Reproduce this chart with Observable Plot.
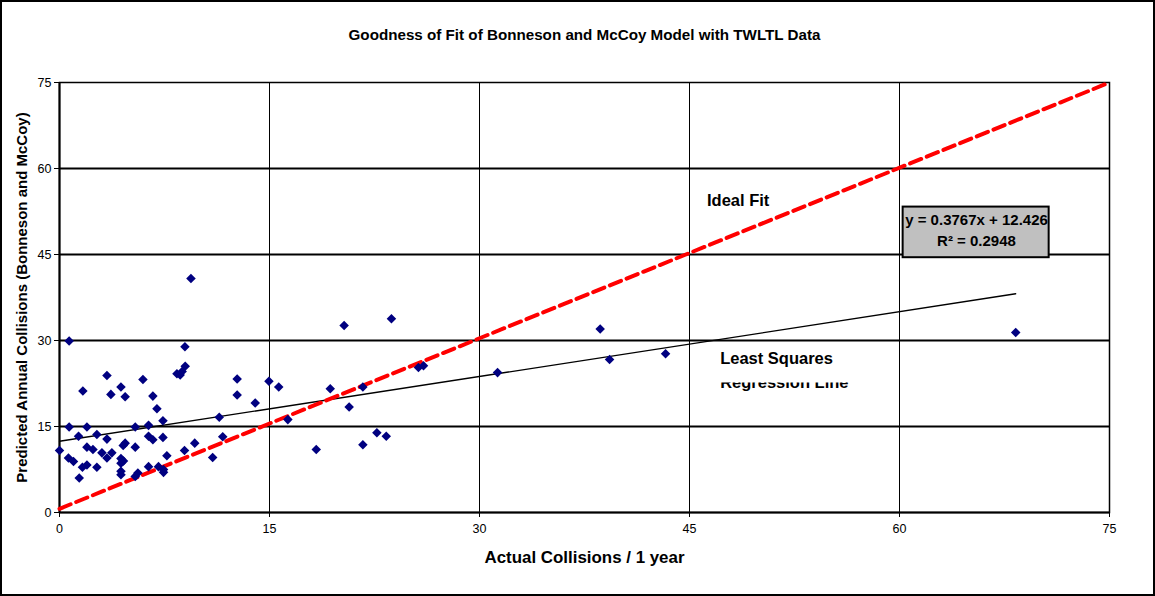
<!DOCTYPE html>
<html><head><meta charset="utf-8">
<script src="https://cdn.jsdelivr.net/npm/d3@7"></script>
<script src="https://cdn.jsdelivr.net/npm/@observablehq/plot@0.6"></script>
<style>body{margin:0;background:#fff;} svg{display:block;}</style>
</head><body><div id="chart"></div>
<script>
const actual = [0.0,0.69,0.69,0.64,1.0,1.41,1.36,1.67,1.96,1.96,1.64,1.96,2.39,2.67,2.67,3.03,3.39,3.67,3.39,3.39,3.74,4.39,4.69,4.39,4.57,4.39,4.69,4.55,4.39,4.39,5.41,5.41,5.6,5.41,5.96,6.36,6.36,6.67,6.67,6.96,7.39,7.39,6.36,7.07,7.43,7.43,7.67,8.39,8.62,8.76,8.98,8.96,9.39,8.93,9.66,10.94,11.41,11.66,12.69,12.69,13.98,14.96,15.66,16.31,18.34,19.34,20.33,20.69,21.67,21.67,22.67,23.34,23.71,25.64,26.0,31.29,38.62,39.29,43.29,68.3];
const predicted = [10.8,29.9,14.9,9.5,8.9,6.0,13.3,21.2,14.9,11.4,7.9,8.3,11.0,7.9,13.6,10.4,23.9,20.6,12.8,9.5,10.4,21.9,20.2,9.4,9.0,8.6,12.1,11.7,7.2,6.6,14.9,11.4,6.9,6.3,23.2,15.2,13.3,12.7,20.3,18.1,16.0,13.1,8.0,8.0,7.5,7.0,9.9,24.2,24.0,24.6,25.5,28.9,40.8,10.8,12.1,9.6,16.6,13.2,23.3,20.5,19.1,22.9,21.9,16.2,11.0,21.6,32.6,18.4,21.9,11.8,13.9,13.3,33.8,25.3,25.6,24.4,32.0,26.7,27.7,31.4];
const ticks = [0, 15, 30, 45, 60, 75];
const slope = 0.3767, intercept = 12.426;
const idealX = [0, 75];
const idealY = [0.65, 75];
const titleText = "Goodness of Fit of Bonneson and McCoy Model with TWLTL Data";
const xLabel = "Actual Collisions / 1 year";
const yLabel = "Predicted Annual Collisions (Bonneson and McCoy)";
const eqLines = ["y = 0.3767x + 12.426", "R\u00B2 = 0.2948"];
const eqBox = {x1: 60.26, x2: 70.69, y1: 44.44, y2: 53.27};
const eqTextPos = [{x: 65.5, y: 50.96}, {x: 65.5, y: 47.3}];
const noteIdeal = {x: 46.25, y: 54.46, text: "Ideal Fit"};
const noteLS = [{x: 47.19, y: 26.87, text: "Least Squares"}, {x: 47.19, y: 22.68, text: "Regression Line"}];

const points = actual.map((x, i) => ({x, y: predicted[i]}));
const xmax = d3.max(actual);
const regression = [{x: 0, y: intercept}, {x: xmax, y: slope * xmax + intercept}];
const ideal = idealX.map((x, i) => ({x, y: idealY[i]}));
const inner = ticks.slice(1, -1);
const font = "'Liberation Sans', Arial, sans-serif";

const plot = Plot.plot({
  width: 1155, height: 596,
  marginLeft: 59, marginRight: 46, marginTop: 82, marginBottom: 84,
  style: {fontFamily: font, fontSize: "12.5px", color: "#000", background: "#fff"},
  x: {domain: [0, 75], ticks, label: null},
  y: {domain: [0, 75], ticks, label: null},
  marks: [
    Plot.gridY(inner, {stroke: "#000", strokeOpacity: 1, strokeWidth: 2}),
    Plot.gridX(inner, {stroke: "#000", strokeOpacity: 1, strokeWidth: 1}),
    Plot.frame({stroke: "#000", strokeWidth: 1.5}),
    Plot.axisX({ticks, tickSize: 5, tickPadding: 7, label: null, fontSize: 12.5}),
    Plot.axisY({ticks, tickSize: 5, tickPadding: 3, label: null, fontSize: 12.5}),
    Plot.ruleX([0], {strokeWidth: 2}),
    Plot.ruleY([0], {strokeWidth: 2}),
    Plot.line(regression, {x: "x", y: "y", stroke: "#000", strokeWidth: 1.3}),
    Plot.line(ideal, {x: "x", y: "y", stroke: "#ff0000", strokeWidth: 4, strokeDasharray: "12,6"}),
    Plot.dot(points, {x: "x", y: "y", symbol: "diamond2", fill: "#000080", stroke: "none", r: 4.3}),
    Plot.rect([eqBox], {x1: "x1", x2: "x2", y1: "y1", y2: "y2", fill: "#c0c0c0", stroke: "#000", strokeWidth: 2}),
    Plot.text(eqTextPos, {x: "x", y: "y", text: (d, i) => eqLines[i], fontWeight: "bold", fontSize: 15, fill: "#000"}),
    Plot.text([noteIdeal], {x: "x", y: "y", text: "text", textAnchor: "start", fontWeight: "bold", fontSize: 16.5, fill: "#000"}),
    Plot.text(noteLS, {x: "x", y: "y", text: "text", textAnchor: "start", fontWeight: "bold", fontSize: 16.5, fill: "#000"}),
    Plot.text([titleText], {frameAnchor: "top", dy: -47, lineAnchor: "middle", fontWeight: "bold", fontSize: 15.2, fill: "#000"}),
    Plot.text([xLabel], {frameAnchor: "bottom", dy: 45, lineAnchor: "middle", fontWeight: "bold", fontSize: 16.9, fill: "#000"}),
    Plot.text([yLabel], {frameAnchor: "left", dx: -37, rotate: -90, textAnchor: "middle", lineAnchor: "middle", fontWeight: "bold", fontSize: 15, fill: "#000"})
  ]
});

const svg = d3.select(plot);
svg.append("defs").append("clipPath").attr("id", "lsclip")
  .append("rect").attr("x", 0).attr("y", 0).attr("width", 1155).attr("height", 384);
svg.selectAll("text").filter(function() { return this.textContent === "Regression Line"; })
  .attr("clip-path", "url(#lsclip)");
svg.append("rect").attr("x", 1).attr("y", 1).attr("width", 1153).attr("height", 594)
  .attr("fill", "none").attr("stroke", "#000").attr("stroke-width", 2);
document.getElementById("chart").appendChild(plot);
</script>
</body></html>
